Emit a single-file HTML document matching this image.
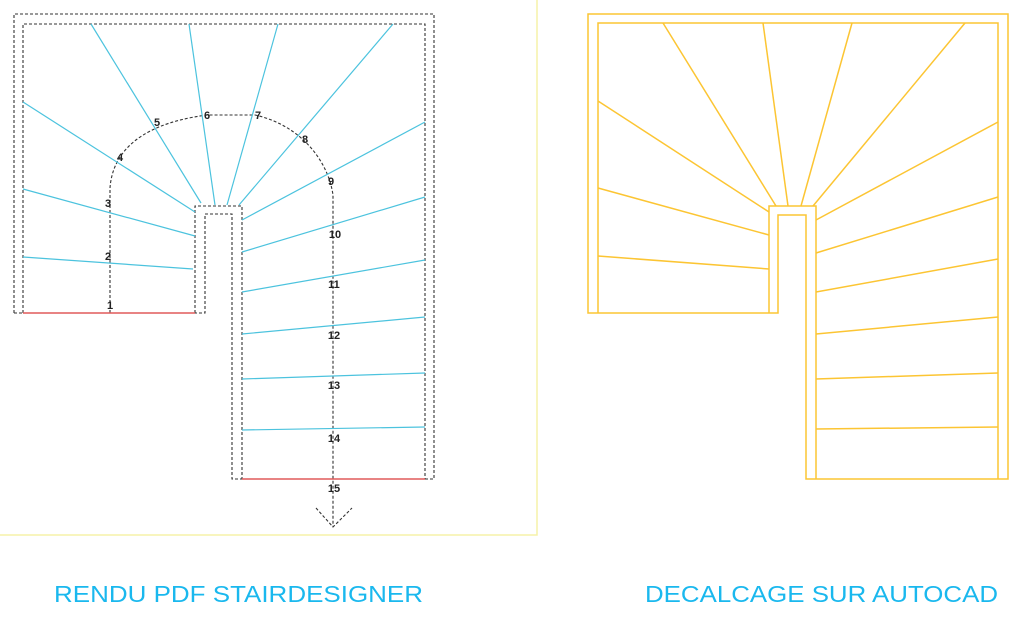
<!DOCTYPE html>
<html><head><meta charset="utf-8"><style>
html,body{margin:0;padding:0;background:#fff;width:1024px;height:619px;overflow:hidden}
svg{display:block}
</style></head><body>
<svg width="1024" height="619" viewBox="0 0 1024 619" xmlns="http://www.w3.org/2000/svg">
<!-- left panel border -->
<polyline points="537,0 537,535 0,535" fill="none" stroke="#f6f2a8" stroke-width="1.5"/>
<g fill="none" stroke="#333" stroke-width="1.1" stroke-dasharray="3,2">
  <path d="M14,313 L14,14 L434,14 L434,479 L232,479 L232,214 L214,214"/>
  <path d="M14,313 L205,313 L205,214"/>
  <path d="M23,313 L23,24 L425,24 L425,479"/>
  <path d="M195,313 L195,206 L242,206 L242,479"/>
  <path d="M205,214 L214,214"/>
  <path d="M110,313 L110,188 C112,160 130,125 207,115 L255,115 C300,125 328,160 333,195 L333,527"/>
  <path d="M316,508 L333,527 L352,508"/>
</g>
<g stroke="#4cc3de" stroke-width="1.2">
<line x1="23" y1="257" x2="193" y2="269"/>
<line x1="23" y1="189" x2="195" y2="236"/>
<line x1="23" y1="102" x2="195" y2="212"/>
<line x1="91" y1="24" x2="201" y2="203"/>
<line x1="189" y1="24" x2="215" y2="205"/>
<line x1="278" y1="24" x2="227" y2="205"/>
<line x1="393" y1="24" x2="239" y2="205"/>
<line x1="425" y1="122" x2="242" y2="220"/>
<line x1="425" y1="197" x2="242" y2="252"/>
<line x1="425" y1="260" x2="242" y2="292"/>
<line x1="425" y1="317" x2="242" y2="334"/>
<line x1="425" y1="373" x2="242" y2="379"/>
<line x1="425" y1="427" x2="242" y2="430"/>
</g>
<g stroke="#e05a5a" stroke-width="1.4">
<line x1="23" y1="313" x2="195" y2="313"/>
<line x1="242" y1="479" x2="425" y2="479"/>
</g>
<g font-family="Liberation Sans, sans-serif" font-size="11" font-weight="bold" fill="#222" text-anchor="middle">
<text x="110" y="309">1</text><text x="108" y="260">2</text><text x="108" y="207">3</text>
<text x="120" y="161">4</text><text x="157" y="126">5</text><text x="207" y="119">6</text>
<text x="258" y="119">7</text><text x="305" y="143">8</text><text x="331" y="185">9</text>
<text x="335" y="238">10</text><text x="334" y="288">11</text><text x="334" y="339">12</text>
<text x="334" y="389">13</text><text x="334" y="442">14</text><text x="334" y="492">15</text>
</g>
<!-- right diagram -->
<g fill="none" stroke="#fcc533" stroke-width="1.5">
<path d="M588,313 L588,14 L1008,14 L1008,479 L806,479 L806,215 L778,215 L778,313 Z"/>
<path d="M598,313 L598,23 L998,23 L998,479"/>
<path d="M769,313 L769,206 L816,206 L816,479"/>
<line x1="598" y1="256" x2="769" y2="269"/>
<line x1="598" y1="188" x2="769" y2="235"/>
<line x1="598" y1="101" x2="769" y2="212"/>
<line x1="663" y1="23" x2="776" y2="206"/>
<line x1="763" y1="23" x2="788" y2="206"/>
<line x1="852" y1="23" x2="801" y2="206"/>
<line x1="965" y1="23" x2="813" y2="206"/>
<line x1="998" y1="122" x2="816" y2="220"/>
<line x1="998" y1="197" x2="816" y2="253"/>
<line x1="998" y1="259" x2="816" y2="292"/>
<line x1="998" y1="317" x2="816" y2="334"/>
<line x1="998" y1="373" x2="816" y2="379"/>
<line x1="998" y1="427" x2="816" y2="429"/>
</g>
<g font-family="Liberation Sans, sans-serif" font-size="23" fill="#1ab8ee">
<text x="54" y="602" textLength="369" lengthAdjust="spacingAndGlyphs">RENDU PDF STAIRDESIGNER</text>
<text x="645" y="602" textLength="353" lengthAdjust="spacingAndGlyphs">DECALCAGE SUR AUTOCAD</text>
</g>
</svg>
</body></html>
